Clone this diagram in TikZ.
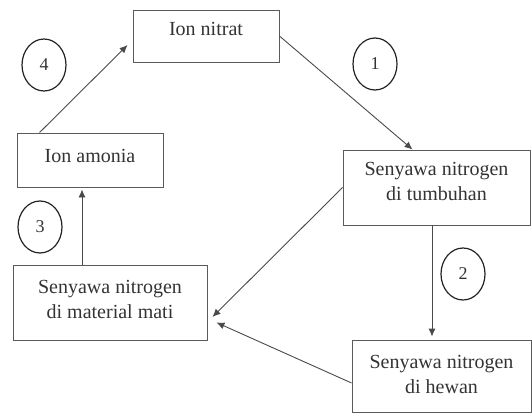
\documentclass[tikz,border=0pt]{standalone}
\usepackage{fontspec}
\setmainfont{Liberation Serif}
\usetikzlibrary{shapes.geometric,arrows.meta}
\definecolor{boxline}{HTML}{5A5A5A}
\definecolor{arrline}{HTML}{4A4A4A}
\definecolor{txt}{HTML}{333333}
\definecolor{circ}{HTML}{222222}
\tikzset{
  stagebox/.style={draw=boxline, line width=0.9pt, rectangle, inner sep=0pt, align=center,
    text=txt, font=\fontsize{20}{25}\selectfont},
  numcirc/.style={draw=circ, line width=1.2pt, ellipse, inner sep=0pt,
    minimum width=44pt, minimum height=52pt, text=txt, font=\fontsize{18}{20}\selectfont},
  flow/.style={draw=arrline, line width=0.9pt, -{Latex[length=8pt,width=7pt]}}
}
\begin{document}
\begin{tikzpicture}[x=1pt,y=-1pt]
\useasboundingbox (0,0) rectangle (532,414);
% boxes
\node[stagebox, minimum width=146pt, minimum height=52pt, text depth=15pt] (nitrat) at (206,36) {Ion nitrat};
\node[stagebox, minimum width=146pt, minimum height=54pt, text depth=9pt] (amonia) at (90,160) {Ion amonia};
\node[stagebox, minimum width=194pt, minimum height=75pt, text depth=7pt] (material) at (110,302.5) {Senyawa nitrogen\\di material mati};
\node[stagebox, minimum width=187pt, minimum height=75pt, text depth=12pt] (tumbuhan) at (436.5,187.5) {Senyawa nitrogen\\di tumbuhan};
\node[stagebox, minimum width=179pt, minimum height=72pt, text depth=4pt] (hewan) at (441.5,376) {Senyawa nitrogen\\di hewan};
% numbered circles
\node[numcirc] (c1) at (375,64) {1};
\node[numcirc] (c2) at (463,274) {2};
\node[numcirc] (c3) at (40,227) {3};
\node[numcirc] (c4) at (44,65) {4};
% connectors
\draw[flow] (nitrat.east) -- ([xshift=70pt]tumbuhan.north west);
\draw[flow] ([xshift=-4.5pt]tumbuhan.south) -- ([xshift=-4.5pt,yshift=3pt]tumbuhan.south |- hewan.north);
\draw[flow] (tumbuhan.west) -- ([xshift=5pt,yshift=-14.5pt]material.east);
\draw[flow] ([yshift=-7pt]hewan.west) -- ([xshift=9pt,yshift=-20pt]material.east);
\draw[flow] ([xshift=-28pt]material.north) -- ([xshift=-28pt,yshift=-2pt]material.north |- amonia.south);
\draw[flow] ([xshift=23pt]amonia.north west) -- ([xshift=-5pt,yshift=-9pt]nitrat.west);
\end{tikzpicture}
\end{document}
